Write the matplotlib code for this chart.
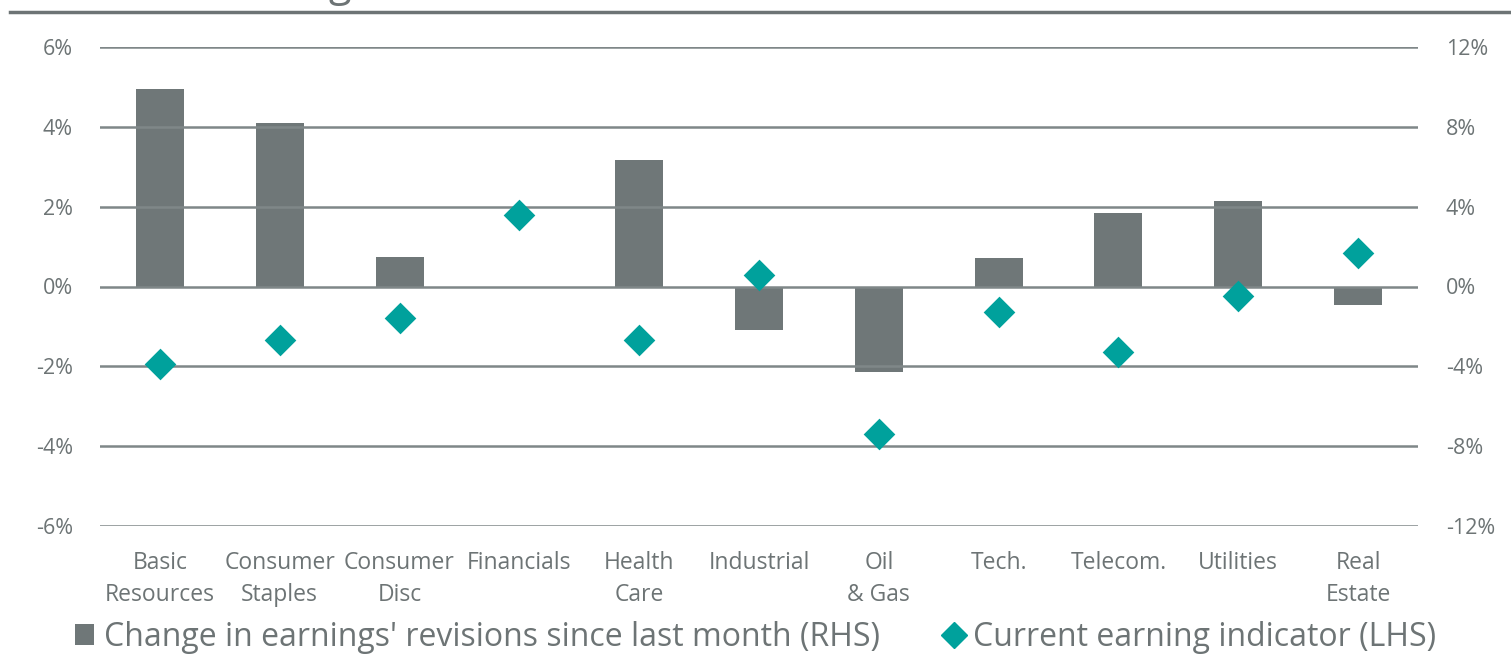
import matplotlib
matplotlib.use("Agg")
import matplotlib.pyplot as plt
from matplotlib.lines import Line2D
from matplotlib.patches import Patch
import numpy as np

categories = ["Basic\nResources", "Consumer\nStaples", "Consumer\nDisc", "Financials",
              "Health\nCare", "Industrial", "Oil\n& Gas", "Tech.", "Telecom.",
              "Utilities", "Real\nEstate"]
revisions_rhs = [9.9, 8.2, 1.5, 0.0, 6.35, -2.2, -4.3, 1.45, 3.7, 4.3, -0.95]
indicator_lhs = [-1.95, -1.35, -0.78, 1.8, -1.35, 0.28, -3.7, -0.63, -1.65, -0.25, 0.83]
lhs_ticks = [-6, -4, -2, 0, 2, 4, 6]
rhs_ticks = [-12, -8, -4, 0, 4, 8, 12]
legend_labels = ["Change in earnings' revisions since last month (RHS)",
                 "Current earning indicator (LHS)"]

BAR = "#6f7778"
TEAL = "#00a19c"
TXT = "#6d7475"
GRID = "#7f8788"
FONT = "Open Sans"

W, H = 1511, 661
fig = plt.figure(figsize=(W/100, H/100), dpi=100)
ax = fig.add_axes([100/W, 1-526/H, (1418-100)/W, (526-47)/H])
ax2 = ax.twinx()

x = np.arange(len(categories))
ax.set_xlim(-0.5, len(categories)-0.5)
ax.set_ylim(-6, 6)
ax2.set_ylim(-12, 12)

for t in lhs_ticks:
    ax.axhline(t, color=GRID, lw=1.8, zorder=0)

ax2.bar(x, revisions_rhs, width=0.4, color=BAR, zorder=2)
ax.scatter(x, indicator_lhs, marker="D", s=260, color=TEAL, zorder=5, linewidths=0)
ax.set_zorder(ax2.get_zorder()+1)
ax.patch.set_visible(False)

for a in (ax, ax2):
    for s in a.spines.values():
        s.set_visible(False)
    a.tick_params(length=0, labelcolor=TXT)

ax.set_yticks(lhs_ticks)
ax.set_yticklabels([f"{t}%" for t in lhs_ticks], fontfamily=FONT, fontsize=15.5)
ax2.set_yticks(rhs_ticks)
ax2.set_yticklabels([f"{t}%" for t in rhs_ticks], fontfamily=FONT, fontsize=15.5)
ax.tick_params(axis="y", pad=19.5)
ax2.tick_params(axis="y", pad=20)

ax.set_xticks(x)
ax.set_xticklabels(categories, fontfamily=FONT, fontsize=16.5, linespacing=1.45)
ax.tick_params(axis="x", pad=18)

# top rule and clipped title
fig.add_artist(Line2D([10/W, 1], [1-12/H, 1-12/H], color=TXT, lw=2.5, transform=fig.transFigure))
fig.text(352/W, 1+4/H, "Earning", fontsize=30, color=TXT, ha="right", va="baseline", fontfamily=FONT)

handles = [Patch(facecolor=BAR, edgecolor="none"),
           Line2D([], [], marker="D", color=TEAL, linestyle="none", markersize=13)]
leg = fig.legend(handles, legend_labels, loc="center", bbox_to_anchor=(0.5, 1-637/H),
                 ncol=2, frameon=False, handlelength=0.62, handleheight=0.62,
                 handletextpad=0.3, columnspacing=2.0, borderpad=0, borderaxespad=0,
                 prop={"family": FONT, "size": 23})
for t in leg.get_texts():
    t.set_color(TXT)

fig.savefig("out.png", dpi=100)
